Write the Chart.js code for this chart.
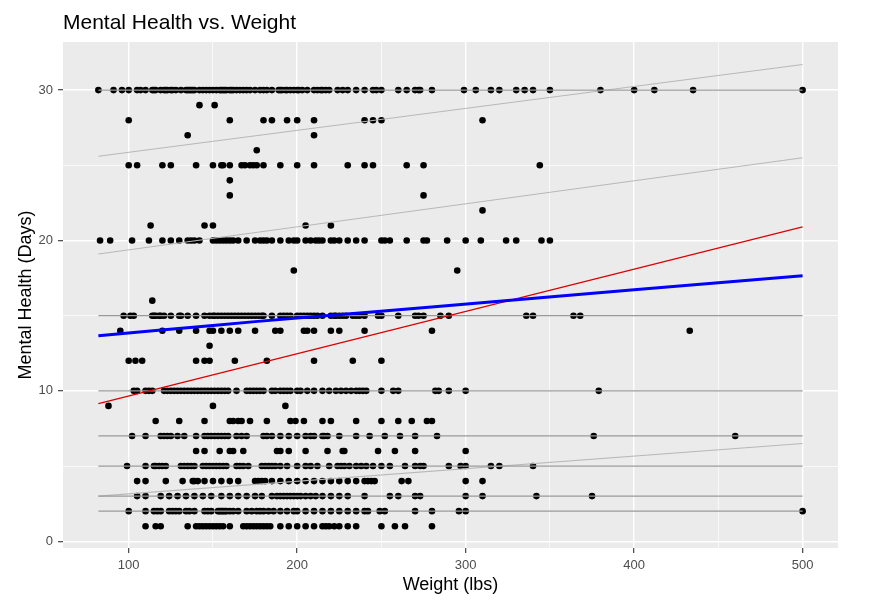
<!DOCTYPE html>
<html>
<head>
<meta charset="utf-8">
<script src="https://cdn.jsdelivr.net/npm/chart.js@4.4.1/dist/chart.umd.min.js"></script>
<style>
  html, body { margin: 0; padding: 0; background: #ffffff; }
  #wrap { width: 873px; height: 608px; position: relative; }
</style>
</head>
<body>
<div id="wrap"><canvas id="mhChart"></canvas></div>
<script>
// mental health days (rows) and the weights (lbs) seen on each row
const mentalDays = [30, 29, 28, 27, 26, 25, 24, 23, 22, 21, 20, 18, 16, 15, 14, 13, 12, 10, 9, 8, 7, 6, 5, 4, 3, 2, 1];
const weightsByDay = [
  [82, 91, 96, 100, 105, 107, 110, 114, 115, 116, 119, 121, 122, 123, 125, 126, 128, 131, 134, 135, 136, 137, 138, 139, 142, 144, 146, 148, 150, 152, 154, 155, 156, 157, 158, 160, 161, 162, 164, 166, 168, 170, 172, 175, 178, 180, 182, 185, 189, 190, 191, 193, 194, 196, 198, 200, 201, 203, 206, 210, 212, 214, 215, 217, 219, 224, 227, 230, 235, 240, 245, 247, 250, 260, 265, 270, 272, 273, 280, 299, 306, 315, 320, 330, 335, 340, 350, 380, 400, 412, 435, 500],
  [142, 151],
  [100, 160, 180, 185, 194, 200, 210, 240, 245, 250, 310],
  [135, 210],
  [176],
  [100, 105, 120, 125, 140, 150, 155, 156, 160, 167, 169, 172, 174, 176, 180, 190, 200, 210, 230, 240, 245, 265, 275, 344],
  [160],
  [160, 275],
  [310],
  [113, 145, 150, 205, 220],
  [83, 89, 102, 112, 120, 125, 130, 135, 137, 139, 142, 150, 152, 154, 156, 158, 160, 162, 165, 170, 175, 178, 180, 182, 185, 190, 195, 198, 200, 205, 208, 211, 213, 215, 220, 222, 225, 230, 235, 240, 250, 252, 255, 265, 275, 277, 289, 300, 309, 324, 330, 345, 350],
  [198, 295],
  [114],
  [97, 101, 103, 114, 115, 116, 118, 119, 121, 125, 130, 131, 135, 140, 145, 148, 150, 151, 153, 155, 157, 159, 161, 163, 165, 167, 169, 171, 173, 175, 177, 179, 180, 185, 190, 192, 194, 196, 200, 202, 204, 206, 208, 210, 212, 215, 220, 222, 223, 225, 227, 229, 233, 235, 237, 240, 248, 250, 260, 270, 272, 275, 285, 290, 336, 340, 364, 368],
  [95, 120, 130, 140, 148, 150, 155, 160, 165, 175, 187, 190, 204, 206, 210, 220, 225, 240, 280, 433],
  [148],
  [100, 104, 108, 140, 145, 148, 163, 182, 210, 233, 250],
  [103, 105, 110, 112, 114, 121, 123, 125, 127, 129, 131, 133, 135, 137, 139, 141, 143, 145, 147, 149, 151, 153, 155, 157, 159, 164, 170, 172, 174, 176, 178, 180, 185, 187, 190, 192, 194, 196, 200, 202, 206, 210, 215, 219, 223, 226, 229, 232, 235, 237, 239, 241, 250, 257, 260, 282, 284, 290, 300, 379],
  [88, 150, 193],
  [116, 130, 145, 160, 162, 165, 167, 172, 182, 196, 199, 204, 215, 220, 235, 250, 260, 268, 277, 280],
  [102, 110, 119, 121, 123, 125, 129, 133, 140, 145, 147, 149, 151, 153, 155, 157, 159, 164, 167, 170, 180, 182, 185, 190, 195, 200, 205, 208, 210, 215, 216, 218, 225, 235, 243, 252, 261, 270, 283, 376, 460],
  [140, 145, 154, 160, 162, 168, 188, 190, 195, 205, 218, 227, 228, 248, 258, 270, 300],
  [99, 110, 115, 116, 118, 120, 122, 131, 133, 135, 137, 139, 144, 146, 148, 150, 152, 154, 156, 158, 164, 166, 168, 171, 179, 181, 183, 185, 187, 190, 194, 200, 205, 208, 212, 219, 224, 226, 228, 231, 235, 238, 241, 245, 250, 255, 264, 270, 273, 275, 290, 297, 300, 315, 320, 340],
  [105, 110, 122, 132, 138, 139, 141, 145, 150, 155, 160, 165, 175, 177, 179, 181, 185, 190, 195, 200, 205, 210, 215, 220, 225, 230, 235, 240, 242, 244, 246, 262, 266, 300, 310],
  [105, 110, 119, 124, 129, 134, 139, 144, 149, 155, 160, 165, 170, 175, 179, 185, 188, 190, 192, 194, 196, 198, 200, 202, 205, 208, 211, 215, 220, 225, 230, 240, 255, 260, 270, 273, 300, 310, 342, 375],
  [100, 110, 115, 117, 119, 124, 126, 128, 130, 134, 136, 139, 145, 147, 149, 153, 154, 155, 156, 157, 158, 160, 162, 165, 170, 173, 176, 178, 180, 183, 186, 190, 194, 198, 200, 205, 210, 215, 220, 225, 230, 235, 240, 242, 249, 252, 270, 280, 296, 300, 500],
  [110, 116, 119, 135, 140, 142, 144, 146, 148, 150, 152, 154, 156, 160, 168, 170, 172, 174, 176, 178, 180, 182, 184, 190, 195, 200, 205, 210, 215, 217, 219, 222, 225, 230, 235, 250, 258, 264, 280]
];

// fitted lines, read at their end weights
const lineWeights = [82, 500];
const flatQuantiles = [2, 3, 5, 7, 10, 15, 30];
const slopedQuantileStart = [3.0, 19.1, 25.6];
const slopedQuantileEnd = [6.5, 25.5, 31.7];
const linearFit = [9.15, 20.9];
const smoothWeights = [82, 150, 200, 285, 400, 500];
const smoothDays = [13.67, 14.35, 14.85, 15.62, 16.73, 17.65];

const xTickValues = [100, 150, 200, 250, 300, 350, 400, 450, 500];
const yTickValues = [0, 5, 10, 15, 20, 25, 30];

const FONT = '"Liberation Sans", Arial, sans-serif';

const points = weightsByDay.flatMap((ws, i) => ws.map(w => ({ x: w, y: mentalDays[i] })));

const datasets = [
  {
    type: 'line',
    data: smoothWeights.map((w, i) => ({ x: w, y: smoothDays[i] })),
    borderColor: '#0000ff',
    borderWidth: 3,
    pointRadius: 0,
    tension: 0.4,
    order: 0
  },
  {
    type: 'line',
    data: lineWeights.map((w, i) => ({ x: w, y: linearFit[i] })),
    borderColor: '#dd0000',
    borderWidth: 1.3,
    pointRadius: 0,
    order: 1
  }
];

flatQuantiles.forEach(q => {
  datasets.push({
    type: 'line',
    data: lineWeights.map(w => ({ x: w, y: q })),
    borderColor: '#9a9a9a',
    borderWidth: 1.3,
    pointRadius: 0,
    order: 2
  });
});

slopedQuantileStart.forEach((s, i) => {
  datasets.push({
    type: 'line',
    data: [{ x: lineWeights[0], y: s }, { x: lineWeights[1], y: slopedQuantileEnd[i] }],
    borderColor: '#b8b8b8',
    borderWidth: 1.1,
    pointRadius: 0,
    order: 2
  });
});

datasets.push({
  type: 'scatter',
  data: points,
  pointRadius: 3.3,
  pointBorderWidth: 0,
  pointBackgroundColor: '#000000',
  borderColor: '#000000',
  order: 3
});

const panel = {
  id: 'panel',
  beforeDraw(chart) {
    const { ctx, chartArea: a } = chart;
    ctx.save();
    ctx.fillStyle = '#ebebeb';
    ctx.fillRect(a.left, a.top, a.right - a.left, a.bottom - a.top);
    ctx.fillStyle = '#000000';
    ctx.font = '21px ' + FONT;
    ctx.textBaseline = 'alphabetic';
    ctx.textAlign = 'left';
    ctx.fillText('Mental Health vs. Weight', a.left, 28.5);
    ctx.restore();
  }
};

const isMajor = (v, step) => v % step === 0;

new Chart(document.getElementById('mhChart'), {
  type: 'scatter',
  data: { datasets: datasets },
  plugins: [panel],
  options: {
    responsive: true,
    maintainAspectRatio: false,
    animation: false,
    layout: { padding: { top: 42, right: 35, left: 0, bottom: 0 } },
    plugins: {
      legend: { display: false },
      tooltip: { enabled: false },
      title: { display: false }
    },
    scales: {
      x: {
        type: 'linear',
        min: 61,
        max: 521,
        afterFit: s => { s.height = 60; },
        afterBuildTicks: s => { s.ticks = xTickValues.map(v => ({ value: v })); },
        border: { display: false },
        grid: {
          color: '#ffffff',
          lineWidth: c => (c.tick && isMajor(c.tick.value, 100)) ? 1.4 : 0.7,
          tickColor: c => (c.tick && isMajor(c.tick.value, 100)) ? '#333333' : 'rgba(0,0,0,0)',
          tickLength: 5,
          tickWidth: 1.1
        },
        ticks: {
          autoSkip: false,
          maxRotation: 0,
          padding: 5,
          color: '#4d4d4d',
          font: { family: FONT, size: 13 },
          callback: v => isMajor(v, 100) ? String(v) : ''
        },
        title: {
          display: true,
          text: 'Weight (lbs)',
          color: '#000000',
          font: { family: FONT, size: 18 },
          padding: { top: 0, bottom: 12 }
        }
      },
      y: {
        type: 'linear',
        min: -0.45,
        max: 33.2,
        afterFit: s => { s.width = 63; },
        afterBuildTicks: s => { s.ticks = yTickValues.map(v => ({ value: v })); },
        border: { display: false },
        grid: {
          color: '#ffffff',
          lineWidth: c => (c.tick && isMajor(c.tick.value, 10)) ? 1.4 : 0.7,
          tickColor: c => (c.tick && isMajor(c.tick.value, 10)) ? '#333333' : 'rgba(0,0,0,0)',
          tickLength: 5,
          tickWidth: 1.1
        },
        ticks: {
          autoSkip: false,
          padding: 5,
          color: '#4d4d4d',
          font: { family: FONT, size: 13 },
          callback: v => isMajor(v, 10) ? String(v) : ''
        },
        title: {
          display: true,
          text: 'Mental Health (Days)',
          color: '#000000',
          font: { family: FONT, size: 18 },
          padding: { top: 15, bottom: 0 }
        }
      }
    }
  }
});
</script>
</body>
</html>
